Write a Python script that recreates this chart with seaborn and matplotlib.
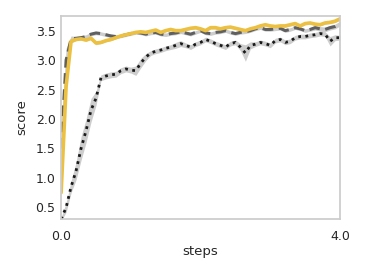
import numpy as np
import pandas as pd
import matplotlib
matplotlib.use("Agg")
import matplotlib.pyplot as plt
import seaborn as sns

# training curves
steps = np.linspace(0, 4.0, 57)

solid = [0.75, 2.55, 3.32, 3.35, 3.36, 3.34, 3.37, 3.29, 3.30, 3.33, 3.35, 3.38, 3.41, 3.43,
         3.45, 3.47, 3.48, 3.47, 3.49, 3.51, 3.47, 3.50, 3.52, 3.50, 3.50, 3.52, 3.54, 3.55,
         3.53, 3.50, 3.55, 3.55, 3.53, 3.55, 3.56, 3.54, 3.52, 3.50, 3.53, 3.55, 3.58, 3.60,
         3.58, 3.57, 3.58, 3.58, 3.60, 3.62, 3.58, 3.62, 3.63, 3.61, 3.60, 3.63, 3.64, 3.66, 3.70]
dashed = [1.50, 3.00, 3.36, 3.37, 3.38, 3.40, 3.44, 3.46, 3.45, 3.43, 3.41, 3.40, 3.41, 3.43,
          3.45, 3.47, 3.46, 3.44, 3.46, 3.47, 3.44, 3.43, 3.45, 3.46, 3.48, 3.46, 3.44, 3.47,
          3.50, 3.46, 3.45, 3.47, 3.48, 3.50, 3.47, 3.45, 3.47, 3.48, 3.50, 3.53, 3.55, 3.52,
          3.52, 3.53, 3.54, 3.50, 3.52, 3.55, 3.53, 3.50, 3.52, 3.55, 3.53, 3.52, 3.55, 3.57, 3.62]
dotted = [0.30, 0.50, 0.85, 1.12, 1.50, 1.80, 2.15, 2.35, 2.70, 2.73, 2.75, 2.76, 2.82, 2.85,
          2.83, 2.82, 2.95, 3.05, 3.12, 3.15, 3.17, 3.20, 3.22, 3.25, 3.28, 3.25, 3.22, 3.27,
          3.30, 3.35, 3.32, 3.28, 3.25, 3.22, 3.28, 3.30, 3.22, 3.12, 3.25, 3.27, 3.30, 3.28,
          3.25, 3.33, 3.35, 3.30, 3.32, 3.38, 3.40, 3.40, 3.42, 3.43, 3.45, 3.44, 3.32, 3.38, 3.38]

# half-widths of the shaded bands
solid_sd = [0.15, 0.10, 0.03, 0.02, 0.02, 0.02, 0.02, 0.03, 0.02, 0.02, 0.02, 0.02, 0.02, 0.02,
            0.02, 0.02, 0.02, 0.02, 0.02, 0.02, 0.02, 0.02, 0.02, 0.02, 0.02, 0.02, 0.02, 0.02,
            0.02, 0.02, 0.02, 0.02, 0.02, 0.02, 0.02, 0.02, 0.02, 0.02, 0.02, 0.02, 0.02, 0.02,
            0.02, 0.02, 0.02, 0.02, 0.02, 0.02, 0.02, 0.02, 0.02, 0.02, 0.02, 0.02, 0.02, 0.02, 0.02]
dashed_sd = [0.40, 0.20, 0.05, 0.03, 0.03, 0.03, 0.03, 0.03, 0.03, 0.03, 0.03, 0.03, 0.03, 0.03,
             0.03, 0.03, 0.03, 0.03, 0.03, 0.03, 0.03, 0.03, 0.03, 0.03, 0.03, 0.03, 0.03, 0.03,
             0.03, 0.03, 0.03, 0.03, 0.03, 0.03, 0.03, 0.03, 0.03, 0.03, 0.03, 0.03, 0.03, 0.03,
             0.03, 0.03, 0.03, 0.03, 0.03, 0.03, 0.03, 0.03, 0.03, 0.04, 0.04, 0.04, 0.04, 0.04, 0.04]
dotted_sd = [0.03, 0.08, 0.10, 0.15, 0.20, 0.20, 0.20, 0.12, 0.05, 0.05, 0.05, 0.05, 0.05, 0.05,
             0.05, 0.08, 0.08, 0.06, 0.04, 0.04, 0.04, 0.04, 0.04, 0.05, 0.05, 0.04, 0.04, 0.04,
             0.04, 0.04, 0.04, 0.04, 0.04, 0.04, 0.04, 0.04, 0.06, 0.14, 0.06, 0.04, 0.04, 0.04,
             0.04, 0.04, 0.04, 0.04, 0.04, 0.04, 0.04, 0.04, 0.04, 0.04, 0.04, 0.04, 0.08, 0.05, 0.04]

series = {"dotted": (dotted, dotted_sd), "dashed": (dashed, dashed_sd), "solid": (solid, solid_sd)}

rows = []
for name, (vals, sd) in series.items():
    for s, v, w in zip(steps, vals, sd):
        rows.append({"steps": s, "score": v, "lo": v - w, "hi": v + w, "run": name})
df = pd.DataFrame(rows)

sns.set_theme(style="white")
plt.rcParams['font.family'] = ['DejaVu Sans']

fig, ax = plt.subplots(figsize=(3.66, 2.74), dpi=100)

colors = {"dotted": "#1a1a1a", "dashed": "#606060", "solid": "#ecc040"}
dashes = {"dotted": (1, 1.6), "dashed": (3.5, 1.8), "solid": ""}
widths = {"dotted": 2.0, "dashed": 2.2, "solid": 2.6}

# shaded bands first, then the lines on top
for name in ["dotted", "dashed", "solid"]:
    d = df[df["run"] == name]
    ax.fill_between(d["steps"], d["lo"], d["hi"], color="#b8b8b8", alpha=0.7, lw=0)
for name in ["dotted", "dashed", "solid"]:
    d = df[df["run"] == name]
    sns.lineplot(data=d, x="steps", y="score", color=colors[name], lw=widths[name],
                 dashes=False, ax=ax, legend=False)
    if dashes[name]:
        ax.lines[-1].set_dashes(dashes[name])

ax.set_xlim(0, 4.0)
ax.set_ylim(0.3, 3.75)
ax.set_xticks([0, 4.0])
ax.set_xticklabels(["0.0", "4.0"])
ax.set_yticks([0.5, 1.0, 1.5, 2.0, 2.5, 3.0, 3.5])
ax.tick_params(length=0, labelsize=9, colors="#262626")
ax.tick_params(axis="x", pad=8)
ax.tick_params(axis="y", pad=4)
ax.set_xlabel("steps", fontsize=9.5, labelpad=1)
ax.set_ylabel("score", fontsize=9.5, labelpad=5)
for sp in ax.spines.values():
    sp.set_color("#cccccc")

fig.subplots_adjust(left=0.167, right=0.929, top=0.942, bottom=0.20)
fig.savefig("out.png", dpi=100)
